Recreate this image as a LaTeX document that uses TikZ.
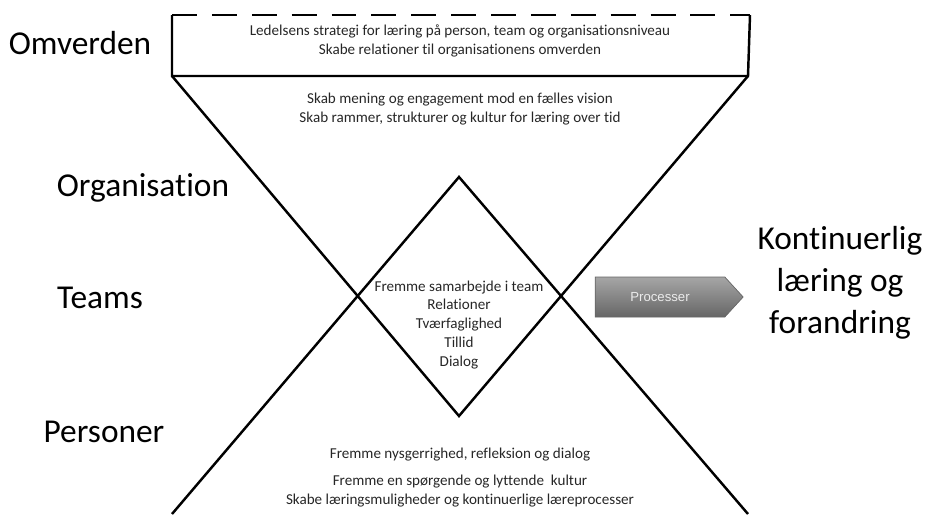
\documentclass[tikz,border=0pt]{standalone}
\usepackage{fontspec}
\setmainfont{Carlito}[Ligatures=NoCommon]
\newfontfamily\arrowfont{Liberation Sans}
\usetikzlibrary{positioning,shapes.symbols}
\tikzstyle{level} = [font=\fontsize{19}{24}\selectfont, align=center]
\tikzstyle{note} = [font=\fontsize{8.6}{10.8}\selectfont, align=center, color=black!85]
\tikzstyle{funnel} = [line width=1.4pt, black]
\tikzstyle{process} = [signal, signal to=east, signal pointer angle=95,
    minimum width=2.96cm, minimum height=0.8cm, draw=black!60, thin,
    top color=black!35, bottom color=black!60, text=black!8,
    font=\arrowfont\fontsize{7.5}{9}\selectfont]

\begin{document}
\begin{tikzpicture}[x=0.02cm, y=-0.02cm]
     \useasboundingbox (0,0) rectangle (926,514);
     % funnel corners
     \coordinate (topleft) at (172,76);
     \coordinate (topright) at (748,76);
     \coordinate (botleft) at (172,514);
     \coordinate (botright) at (748,514);
     \coordinate (vlow) at (459,416);
     \coordinate (vhigh) at (459,177);
     \coordinate (boxtl) at (172,15);
     \coordinate (boxtr) at (750,15);

     % top box
     \draw [funnel, dash pattern=on 14.2pt off 8.5pt] (boxtl) -- (boxtr);
     \draw [funnel] (boxtl) -- (topleft) -- (topright) -- (boxtr);
     \draw [funnel] (topleft) -- (vlow) -- (topright);
     \draw [funnel] (botleft) -- (vhigh) -- (botright);

     % levels
     \node [level] (omverden) at (80,43) {Omverden};
     \node [level] (organisation) at (143,188) {Organisation};
     \node [level] (teams) at (100,298) {Teams};
     \node [level] (personer) at (104,432) {Personer};
     \node [level] (result) at (840,283) {Kontinuerlig\\læring og\\forandring};

     % texts
     \node [note] (strategy) at (460,41) {Ledelsens strategi for læring på person, team og organisationsniveau\\Skabe relationer til organisationens omverden};
     \node [note] (vision) at (460,109) {Skab mening og engagement mod en fælles vision\\Skab rammer, strukturer og kultur for læring over tid};
     \node [note] (teamwork) at (459,325) {Fremme samarbejde i team\\Relationer\\Tværfaglighed\\Tillid\\Dialog};
     \node [note] (curiosity) at (460,455) {Fremme nysgerrighed, refleksion og dialog};
     \node [note] (culture) at (460,491) {Fremme en spørgende og lyttende\ \ kultur\\Skabe læringsmuligheder og kontinuerlige læreprocesser};

     \node [process] (processer) at (660,297) {Processer\hspace{0.4cm}};
\end{tikzpicture}
\end{document}
